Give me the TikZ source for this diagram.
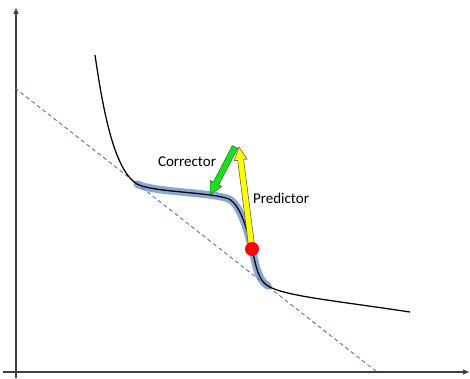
\documentclass[tikz,border=0pt]{standalone}
\usepackage{fontspec}
\setmainfont{Carlito}
\usetikzlibrary{calc,arrows.meta}

\definecolor{trackblue}{RGB}{85,128,188}
\definecolor{dashblue}{RGB}{85,115,165}
\definecolor{predyellow}{RGB}{255,255,0}
\definecolor{corrgreen}{RGB}{20,230,20}

% fat arrow from #1 to #2, filled with #3
\newcommand\blockarrow[3]{%
  \coordinate (ba) at ($(#2)!13pt!(#1)$);
  \filldraw[blockarrow, fill=#3]
    ($(#1)!3pt!90:(#2)$) -- ($(ba)!3pt!90:(#2)$) -- ($(ba)!6.5pt!90:(#2)$)
    -- (#2) -- ($(ba)!6.5pt!-90:(#2)$) -- ($(ba)!3pt!-90:(#2)$)
    -- ($(#1)!3pt!-90:(#2)$) -- cycle;}

\begin{document}
\begin{tikzpicture}[x=1pt,y=-1pt,
  axis/.style={draw=black!75, line width=1.3pt, -{Triangle[length=6pt,width=5pt]}},
  tangent/.style={draw=dashblue, line width=0.9pt, dash pattern=on 4pt off 3pt},
  track/.style={draw=trackblue, line width=7.5pt, line cap=round, opacity=0.7},
  curve/.style={draw=black, line width=1.25pt},
  blockarrow/.style={draw=black!70, line width=0.5pt, line join=miter},
  lbl/.style={font=\fontsize{15}{18}\selectfont, inner sep=0pt}]
\useasboundingbox (0,0) rectangle (470,379);

% axes
\draw[axis] (16,378) -- (16,8);
\draw[axis] (3,372) -- (469,372);

\draw[tangent] (15,88) -- (377,372);

\coordinate (c0) at (95,55);
\coordinate (c1) at (137,184);
\coordinate (c2) at (226,198);
\coordinate (c3) at (252,249);
\coordinate (c4) at (268,286);
\coordinate (c5) at (410,312);

\draw[track] (c1) .. controls (152,192) and (205,192) .. (c2)
  .. controls (240,201) and (247,230) .. (c3)
  .. controls (256,266) and (258,280) .. (c4);
\draw[curve] (c0) .. controls (103,110) and (114,170) .. (c1)
  .. controls (152,192) and (205,192) .. (c2)
  .. controls (240,201) and (247,230) .. (c3)
  .. controls (256,266) and (258,280) .. (c4)
  .. controls (285,296) and (330,300) .. (c5);

\coordinate (ptop) at (239,147);
\coordinate (ctail) at (235,147);
\coordinate (land) at (210,195);

\blockarrow{ctail}{land}{corrgreen}
\blockarrow{c3}{ptop}{predyellow}

\node[circle, fill=red, inner sep=0pt, minimum size=14pt] (dot) at (c3) {};

\node[lbl] (corr) at (187,162) {Corrector};
\node[lbl] (pred) at (281,198) {Predictor};
\end{tikzpicture}
\end{document}
